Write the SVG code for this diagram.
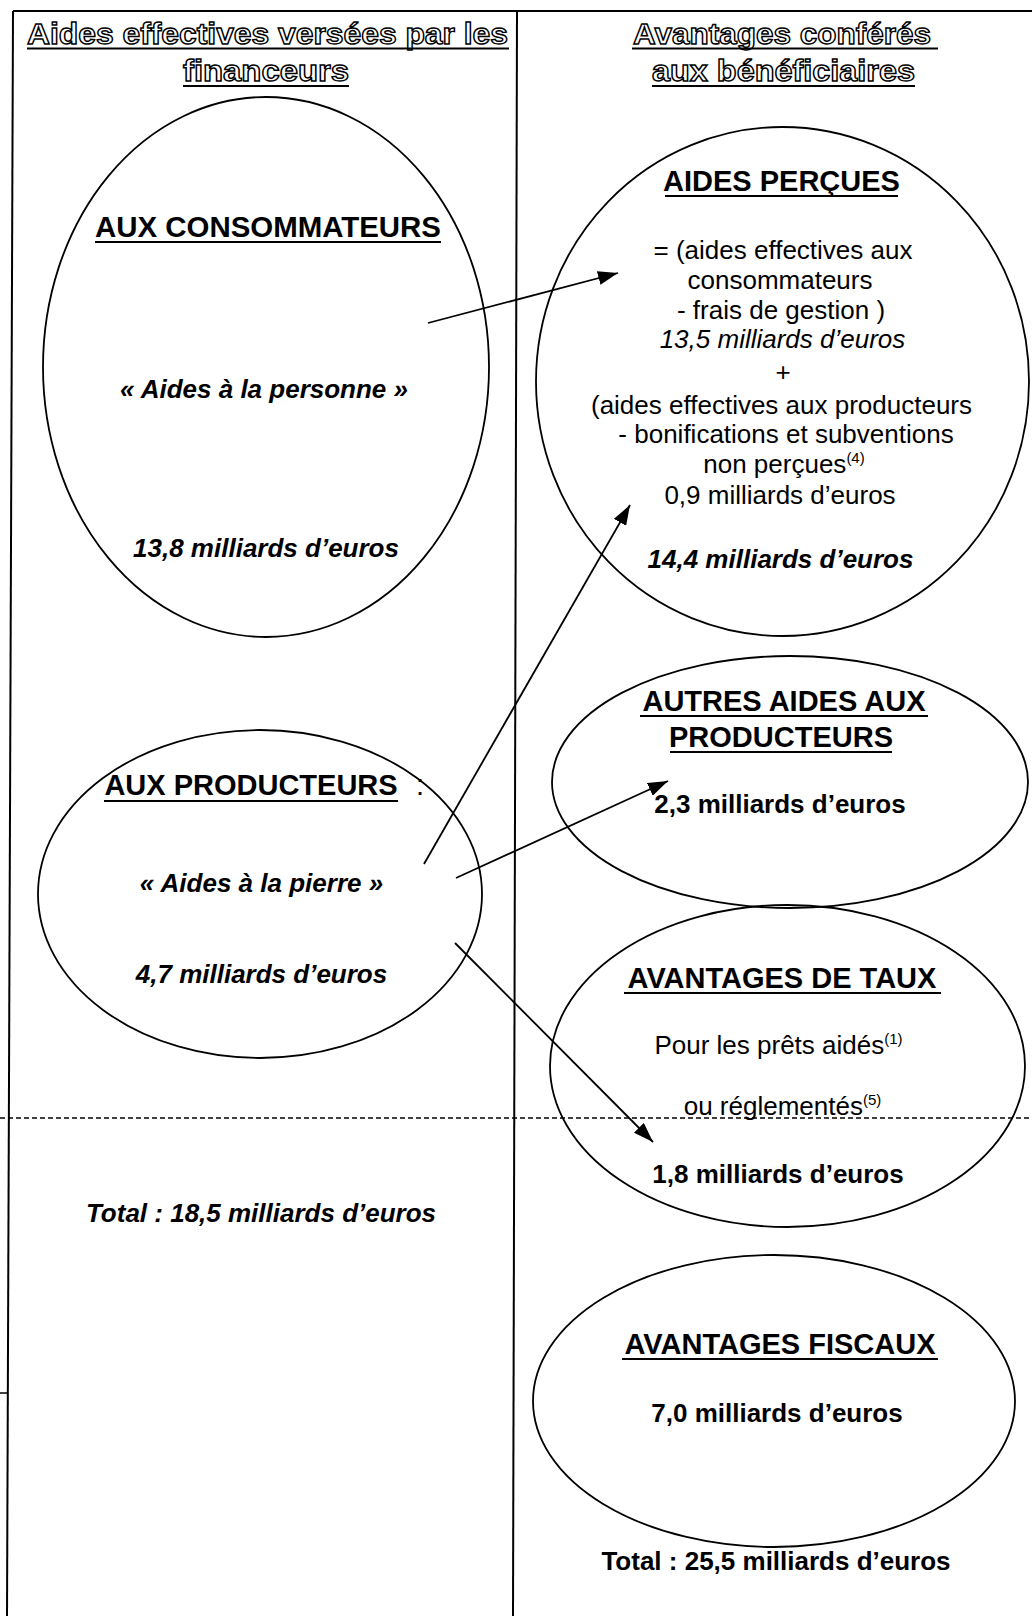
<svg xmlns="http://www.w3.org/2000/svg" width="1032" height="1616" viewBox="0 0 1032 1616">
<defs>
<style>
text{font-family:"Liberation Sans",Arial,sans-serif;fill:#000}
.hd{font-size:30px;font-weight:bold;fill:#fff;stroke:#000;stroke-width:1.4px}
.h{font-size:29px;font-weight:bold;text-anchor:middle}
.bi{font-size:26px;font-weight:bold;font-style:italic;text-anchor:middle}
.b{font-size:26px;font-weight:bold;text-anchor:middle}
.r{font-size:26px;text-anchor:middle}
.i{font-size:26px;font-style:italic;text-anchor:middle}
.sup{font-size:15px}
.ul{stroke:#000;stroke-width:2}
.frame{stroke:#000;stroke-width:2;fill:none}
.dash{stroke:#000;stroke-width:1.6;stroke-dasharray:5 3;fill:none}
.node ellipse{fill:none;stroke:#000;stroke-width:1.8}
.conn line{stroke:#000;stroke-width:1.8;marker-end:url(#ah)}
</style>
<marker id="ah" viewBox="0 0 20 14" refX="20" refY="7" markerWidth="20" markerHeight="14" markerUnits="userSpaceOnUse" orient="auto">
<path d="M0,0 L20,7 L0,14 z" fill="#000"/>
</marker>
</defs>
<rect width="1032" height="1616" fill="#fff"/>

<g id="frame">
<line class="frame" x1="13" y1="11" x2="1032" y2="11"/>
<line class="frame" x1="13" y1="11" x2="7" y2="1616"/>
<line class="frame" x1="517" y1="11" x2="513" y2="1616"/>
<line class="dash" x1="0" y1="1118" x2="1032" y2="1118"/>
<line class="frame" x1="0" y1="1393" x2="7" y2="1393" style="stroke-width:1.5"/>
</g>

<g id="headers">
<text class="hd" x="27" y="44" textLength="481" lengthAdjust="spacingAndGlyphs">Aides effectives versées par les</text>
<line class="ul" x1="27" y1="48.5" x2="509" y2="48.5"/>
<text class="hd" x="183" y="81" textLength="166" lengthAdjust="spacingAndGlyphs">financeurs</text>
<line class="ul" x1="183" y1="86" x2="349" y2="86"/>
<text class="hd" x="633" y="44" textLength="298" lengthAdjust="spacingAndGlyphs">Avantages conférés</text>
<line class="ul" x1="632" y1="48.5" x2="938" y2="48.5"/>
<text class="hd" x="652" y="81" textLength="263" lengthAdjust="spacingAndGlyphs">aux bénéficiaires</text>
<line class="ul" x1="652" y1="86" x2="915" y2="86"/>
</g>

<g id="consommateurs" class="node">
<ellipse cx="266" cy="367" rx="223" ry="270"/>
<text class="h" x="268" y="237" textLength="346" lengthAdjust="spacingAndGlyphs">AUX CONSOMMATEURS</text>
<line class="ul" x1="95" y1="242" x2="441" y2="242"/>
<text class="bi" x="264" y="398">« Aides à la personne »</text>
<text class="bi" x="266" y="557">13,8 milliards d’euros</text>
</g>

<g id="producteurs" class="node">
<ellipse cx="260" cy="894" rx="222" ry="164"/>
<text class="h" x="251" y="795">AUX PRODUCTEURS</text>
<line class="ul" x1="104" y1="801" x2="398" y2="801"/>
<text x="416" y="795" style="font-size:29px">:</text>
<text class="bi" x="261.5" y="892">« Aides à la pierre »</text>
<text class="bi" x="261.5" y="983">4,7 milliards d’euros</text>
</g>

<text id="total-gauche" class="bi" x="261" y="1222">Total : 18,5 milliards d’euros</text>

<g id="aides-percues" class="node">
<ellipse cx="782.5" cy="381.5" rx="246.5" ry="254.5"/>
<text class="h" x="781.5" y="191">AIDES PERÇUES</text>
<line class="ul" x1="665" y1="196" x2="898" y2="196"/>
<text class="r" x="783" y="259">= (aides effectives aux</text>
<text class="r" x="780" y="289">consommateurs</text>
<text class="r" x="781" y="319">- frais de gestion )</text>
<text class="i" x="782.5" y="348">13,5 milliards d’euros</text>
<text class="r" x="783" y="381">+</text>
<text class="r" x="781.5" y="414">(aides effectives aux producteurs</text>
<text class="r" x="786" y="443">- bonifications et subventions</text>
<text class="r" x="784" y="473">non perçues<tspan class="sup" dy="-10">(4)</tspan></text>
<text class="r" x="780" y="504">0,9 milliards d’euros</text>
<text class="bi" x="780.5" y="568">14,4 milliards d’euros</text>
</g>

<g id="autres-aides" class="node">
<ellipse cx="790" cy="782" rx="238" ry="126"/>
<text class="h" x="784" y="711">AUTRES AIDES AUX</text>
<line class="ul" x1="640" y1="716" x2="928" y2="716"/>
<text class="h" x="781" y="747">PRODUCTEURS</text>
<line class="ul" x1="670" y1="752" x2="892" y2="752"/>
<text class="b" x="780" y="813">2,3 milliards d’euros</text>
</g>

<g id="avantages-taux" class="node">
<ellipse cx="787.5" cy="1066" rx="237.5" ry="161"/>
<text class="h" x="782" y="988">AVANTAGES DE TAUX</text>
<line class="ul" x1="624" y1="993" x2="941" y2="993"/>
<text class="r" x="778.5" y="1054">Pour les prêts aidés<tspan class="sup" dy="-10">(1)</tspan></text>
<text class="r" x="782.5" y="1115">ou réglementés<tspan class="sup" dy="-10">(5)</tspan></text>
<text class="b" x="778" y="1183">1,8 milliards d’euros</text>
</g>

<g id="avantages-fiscaux" class="node">
<ellipse cx="774" cy="1401" rx="241" ry="146"/>
<text class="h" x="780" y="1354">AVANTAGES FISCAUX</text>
<line class="ul" x1="622" y1="1359" x2="938" y2="1359"/>
<text class="b" x="777" y="1422">7,0 milliards d’euros</text>
</g>

<text id="total-droite" class="b" x="776" y="1570">Total : 25,5 milliards d’euros</text>

<g id="connectors" class="conn">
<line x1="428" y1="323" x2="618" y2="273"/>
<line x1="424" y1="864" x2="630" y2="505"/>
<line x1="456" y1="878" x2="668" y2="781"/>
<line x1="455" y1="943" x2="653" y2="1142"/>
</g>
</svg>
